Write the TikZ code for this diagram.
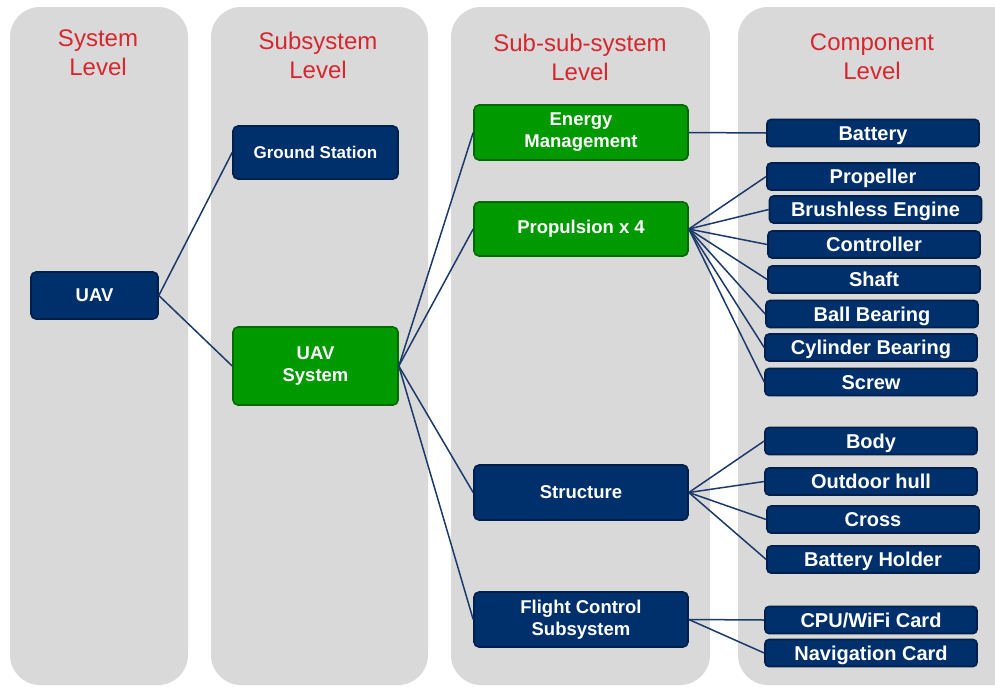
\documentclass[tikz,border=0pt]{standalone}
\usepackage{fontspec}
\setmainfont{Liberation Sans}
\usepackage{xcolor}
\usetikzlibrary{positioning}

\definecolor{panelgray}{HTML}{D9D9D9}
\definecolor{titlered}{HTML}{D8262E}
\definecolor{navyfill}{HTML}{00306C}
\definecolor{navyedge}{HTML}{001F4A}
\definecolor{greenfill}{HTML}{009A00}
\definecolor{greenedge}{HTML}{006A00}
\definecolor{linkblue}{HTML}{1B3A6B}

\begin{document}
\begin{tikzpicture}[
    x=1pt, y=-1pt,
    panel/.style={fill=panelgray, rounded corners=30pt},
    title/.style={text=titlered, font=\fontsize{24}{29}\selectfont, align=center},
    box/.style={rectangle, draw, line width=1.6pt, rounded corners=5pt, align=center, text=white, font=\fontsize{18.5}{22}\selectfont\bfseries, inner sep=0pt},
    navybox/.style={box, fill=navyfill, draw=navyedge},
    greenbox/.style={box, fill=greenfill, draw=greenedge},
    compbox/.style={navybox, minimum width=212pt, minimum height=27pt, rounded corners=4pt, font=\fontsize{20}{24}\selectfont\bfseries, text height=14.5pt, text depth=0pt},
    link/.style={draw=linkblue, line width=1.5pt}
]
\clip (0,0) rectangle (995,686);
\useasboundingbox (0,0) rectangle (995,686);

% Level panels
\fill[panel] (10,7) rectangle (188,685);
\fill[panel] (211,7) rectangle (428,685);
\fill[panel] (451,7) rectangle (710,685);
\fill[panel] (738,7) rectangle (1030,685);

% Level titles
\node[title] (t1) at (98,53) {System\\Level};
\node[title] (t2) at (318,55) {Subsystem\\Level};
\node[title] (t3) at (580,57) {Sub-sub-system\\Level};
\node[title] (t4) at (872,57) {Component\\Level};

% System level
\node[navybox, minimum width=127pt, minimum height=47pt] (uav) at (94.5,295.5) {UAV};

% Subsystem level
\node[navybox, minimum width=165pt, minimum height=53pt, font=\fontsize{17}{20}\selectfont\bfseries] (ground) at (315.5,152.5) {Ground Station};
\node[greenbox, minimum width=165pt, minimum height=78pt] (uavsys) at (315.5,366) {UAV\\System};

% Sub-sub-system level
\node[greenbox, minimum width=214pt, minimum height=55pt] (energy) at (581,132.5) {Energy\\Management};
\node[greenbox, minimum width=214pt, minimum height=54pt] (propulsion) at (581,229) {Propulsion x 4};
\node[navybox, minimum width=214pt, minimum height=55pt] (structure) at (581,492.5) {Structure};
\node[navybox, minimum width=214pt, minimum height=55pt] (flight) at (581,619.5) {Flight Control\\Subsystem};

% Component level
\node[compbox] (battery) at (873,133) {Battery};
\node[compbox] (propeller) at (873,176.5) {Propeller};
\node[compbox] (engine) at (875.5,209.5) {Brushless Engine};
\node[compbox] (controller) at (874,244.5) {Controller};
\node[compbox] (shaft) at (874,279.5) {Shaft};
\node[compbox] (ballbearing) at (872,314) {Ball Bearing};
\node[compbox] (cylbearing) at (871,347.5) {Cylinder Bearing};
\node[compbox] (screw) at (871,382) {Screw};
\node[compbox] (body) at (871,441) {Body};
\node[compbox] (hull) at (871,481.5) {Outdoor hull};
\node[compbox] (cross) at (873,519.5) {Cross};
\node[compbox] (holder) at (873,559.5) {Battery Holder};
\node[compbox] (cpu) at (871,620) {CPU/WiFi Card};
\node[compbox] (navcard) at (871,653) {Navigation Card};

% Connectors
\draw[link] (uav.east) -- (ground.west);
\draw[link] (uav.east) -- (uavsys.west);
\foreach \n in {energy, propulsion, structure, flight}
    \draw[link] (uavsys.east) -- (\n.west);
\draw[link] (energy.east) -- (battery.west);
\foreach \n in {propeller, engine, controller, shaft, ballbearing, cylbearing, screw}
    \draw[link] (propulsion.east) -- (\n.west);
\foreach \n in {body, hull, cross, holder}
    \draw[link] (structure.east) -- (\n.west);
\foreach \n in {cpu, navcard}
    \draw[link] (flight.east) -- (\n.west);
\end{tikzpicture}
\end{document}
